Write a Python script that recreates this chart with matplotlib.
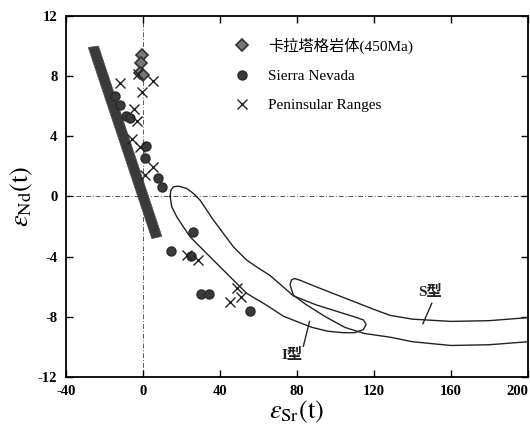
# -*- coding: utf-8 -*-
import numpy as np
import matplotlib
matplotlib.use("Agg")
import matplotlib.pyplot as plt
from matplotlib.patches import Polygon

plt.rcParams['font.family'] = ['Liberation Serif', 'Noto Sans CJK SC']
plt.rcParams['mathtext.fontset'] = 'stix'
plt.rcParams['axes.unicode_minus'] = False

# Karatag pluton (450Ma)
klt_x = [-0.4, -0.7, -1.2, 0.1]
klt_y = [9.4, 8.9, 8.2, 8.05]

# Sierra Nevada
sn_x = [-14.2, -11.8, -8.5, -6.8, 1.8, 1.3, 8.1, 10.2, 26.3, 14.7, 25.1, 30.4, 34.3, 55.5]
sn_y = [6.7, 6.1, 5.35, 5.2, 3.35, 2.55, 1.25, 0.65, -2.35, -3.6, -3.95, -6.5, -6.5, -7.6]

# Peninsular Ranges
pr_x = [-11.8, -2.3, -0.5, 5.2, -4.5, -3.1, -5.7, -1.4, 5.5, 1.2, 22.9, 28.9, 49.2, 51.1, 45.4]
pr_y = [7.55, 8.15, 6.95, 7.7, 5.8, 5.0, 3.85, 3.3, 1.97, 1.45, -3.9, -4.25, -6.05, -6.7, -7.0]

# mantle array band
band_x = [-28.3, -23.0, 9.9, 4.7]
band_y = [9.9, 10.0, -2.65, -2.8]

# I-type field outline (closed)
i_x = [14.2, 14.6, 15.9, 18.5, 22.9, 26.3, 29.8, 33.2, 36.7, 41.9, 47.1, 54.0, 60.0, 66.1,
       72.0, 78.2, 90.0, 100.0, 110.0, 114.6, 116.0, 114.5, 110.0, 104.0, 96.0, 88.0,
       81.8, 73.0, 64.0, 54.0, 47.1, 38.4, 31.5, 24.6, 21.1, 17.7, 15.1, 14.2]
i_y = [0.0, 0.42, 0.64, 0.69, 0.53, 0.2, -0.25, -0.9, -1.57, -2.46, -3.35, -4.23, -4.75, -5.25,
       -5.9, -6.6, -7.2, -7.6, -8.0, -8.2, -8.5, -8.85, -9.05, -9.05, -8.95, -8.7,
       -8.4, -7.95, -7.2, -6.44, -5.56, -4.45, -3.57, -2.68, -2.02, -1.36, -0.69, 0.0]

# S-type field outline (open at the right)
s_x = [200, 180, 160, 140, 128.5, 115, 105, 95, 85, 78.2, 76.5, 77.2, 78.8, 81.8,
       90, 100, 110, 120, 128.5, 140, 160, 180, 200]
s_y = [-9.65, -9.85, -9.9, -9.65, -9.35, -9.1, -8.7, -8.0, -7.2, -6.56, -5.85, -5.55, -5.45, -5.57,
       -6.0, -6.5, -7.0, -7.5, -7.9, -8.15, -8.3, -8.25, -8.05]

fig = plt.figure(figsize=(5.3, 4.29), dpi=100)
ax = fig.add_axes([0.124, 0.121, 0.872, 0.842])

ax.axhline(0, color='0.35', lw=0.7, ls=(0, (5, 2, 1, 2)), zorder=1)
ax.axvline(0, color='0.35', lw=0.7, ls=(0, (5, 2, 1, 2)), zorder=1)

ax.add_patch(Polygon(np.column_stack([band_x, band_y]), closed=True,
                     facecolor='#3a3a3a', edgecolor='#555555', lw=0.5, zorder=2))

ax.plot(i_x, i_y, color='#222222', lw=1.0, zorder=3)
ax.plot(s_x, s_y, color='#222222', lw=1.0, zorder=3)

ax.plot(klt_x, klt_y, ls='none', marker='D', ms=6, mfc='#777777', mec='#333333', mew=1.2,
        zorder=4, label='卡拉塔格岩体(450Ma)')
ax.plot(sn_x, sn_y, ls='none', marker='o', ms=6.5, mfc='#3a3a3a', mec='#2a2a2a',
        zorder=4, label='Sierra Nevada')
ax.plot(pr_x, pr_y, ls='none', marker='x', ms=6.5, color='#222222', mew=1.0,
        zorder=4, label='Peninsular Ranges')

# field labels
ax.text(143.0, -6.35, 'S型', fontsize=11, fontweight='bold', ha='left', va='center', color='#222222')
ax.plot([150.1, 145.5], [-7.1, -8.45], color='#222222', lw=1.0)
ax.text(72.2, -10.5, 'I型', fontsize=11, fontweight='bold', ha='left', va='center', color='#222222')
ax.plot([86.6, 83.4], [-8.3, -9.95], color='#222222', lw=1.0)

ax.set_xlim(-40, 200)
ax.set_ylim(-12, 12)
ax.set_xticks(np.arange(-40, 201, 40))
ax.set_yticks(np.arange(-12, 13, 4))
ax.tick_params(direction='in', top=True, right=True, length=5, width=1.0,
               labelsize=10.5, pad=6)
for lab in ax.get_xticklabels() + ax.get_yticklabels():
    lab.set_fontweight('bold')
ax.get_xticklabels()[-1].set_horizontalalignment('right')
for sp in ax.spines.values():
    sp.set_linewidth(1.3)

ax.set_xlabel(r'$\varepsilon_{\mathrm{Sr}}(\mathrm{t})$', fontsize=19, labelpad=0)
ax.set_ylabel(r'$\varepsilon_{\mathrm{Nd}}(\mathrm{t})$', fontsize=19, labelpad=2)

ax.legend(loc='upper left', bbox_to_anchor=(0.365, 0.94), frameon=False,
          fontsize=11, handlelength=1.0, handletextpad=1.2, labelspacing=1.02,
          borderpad=0, borderaxespad=0)

plt.savefig('out.png', dpi=100)
